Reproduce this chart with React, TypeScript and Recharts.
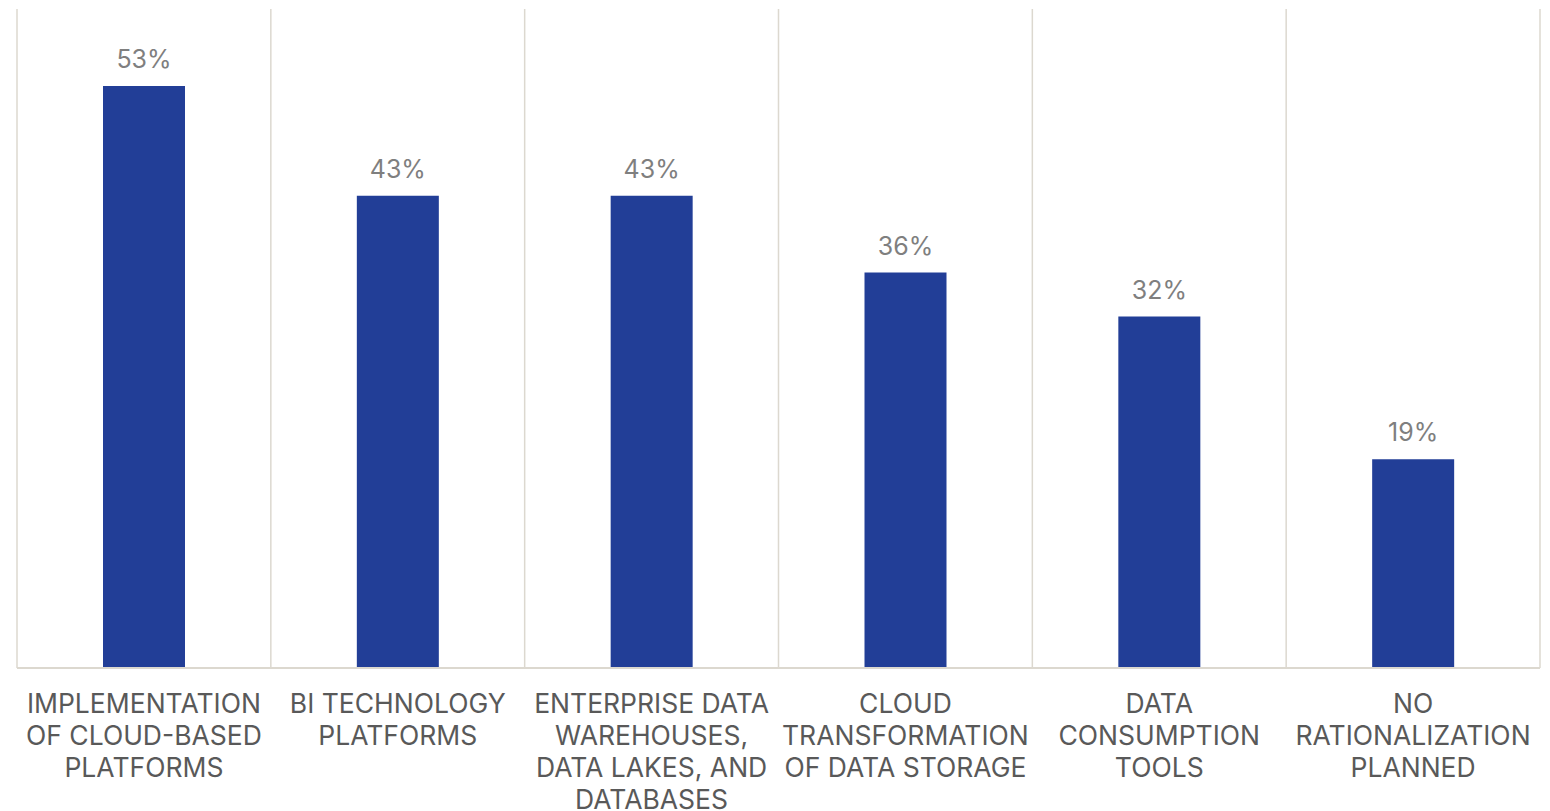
import React from "react";
import { BarChart, Bar, XAxis, YAxis, CartesianGrid, LabelList } from "recharts";

const categories = [
  "IMPLEMENTATION\nOF CLOUD-BASED\nPLATFORMS",
  "BI TECHNOLOGY\nPLATFORMS",
  "ENTERPRISE DATA\nWAREHOUSES,\nDATA LAKES, AND\nDATABASES",
  "CLOUD\nTRANSFORMATION\nOF DATA STORAGE",
  "DATA\nCONSUMPTION\nTOOLS",
  "NO\nRATIONALIZATION\nPLANNED",
];
const values = [53, 43, 43, 36, 32, 19];

const data = categories.map((c, i) => ({ name: c, value: values[i] }));

const FONT = "Inter, 'Open Sans', sans-serif";

const Tick = (props: any) => {
  const { x, y, payload } = props;
  const lines = String(payload.value).split("\n");
  return (
    <text x={x} y={y} textAnchor="middle" fill="#595959" fontFamily={FONT} fontSize={26.5}>
      {lines.map((l, i) => (
        <tspan key={i} x={x} dy={i === 0 ? 37 : 32}>
          {l}
        </tspan>
      ))}
    </text>
  );
};

export default function App() {
  return (
    <BarChart
      width={1542}
      height={803}
      data={data}
      margin={{ top: 1, right: 10, left: 9, bottom: 0 }}
      barSize={82}
    >
      <CartesianGrid
        horizontal={false}
        stroke="#DCD8CF"
        strokeWidth={1.5}
        verticalCoordinatesGenerator={({ offset }: any) =>
          Array.from({ length: categories.length + 1 }, (_, i) => offset.left + (i * offset.width) / categories.length)
        }
      />
      <XAxis
        dataKey="name"
        interval={0}
        tickLine={false}
        axisLine={{ stroke: "#DCD8CF", strokeWidth: 2 }}
        height={143}
        tick={<Tick />}
      />
      <YAxis hide domain={[0, 60]} />
      <Bar dataKey="value" fill="#223E97" isAnimationActive={false}>
        <LabelList
          dataKey="value"
          position="top"
          offset={18}
          formatter={(v: any) => `${v}%`}
          fill="#7F7F7F"
          fontFamily={FONT}
          fontSize={25}
        />
      </Bar>
    </BarChart>
  );
}
